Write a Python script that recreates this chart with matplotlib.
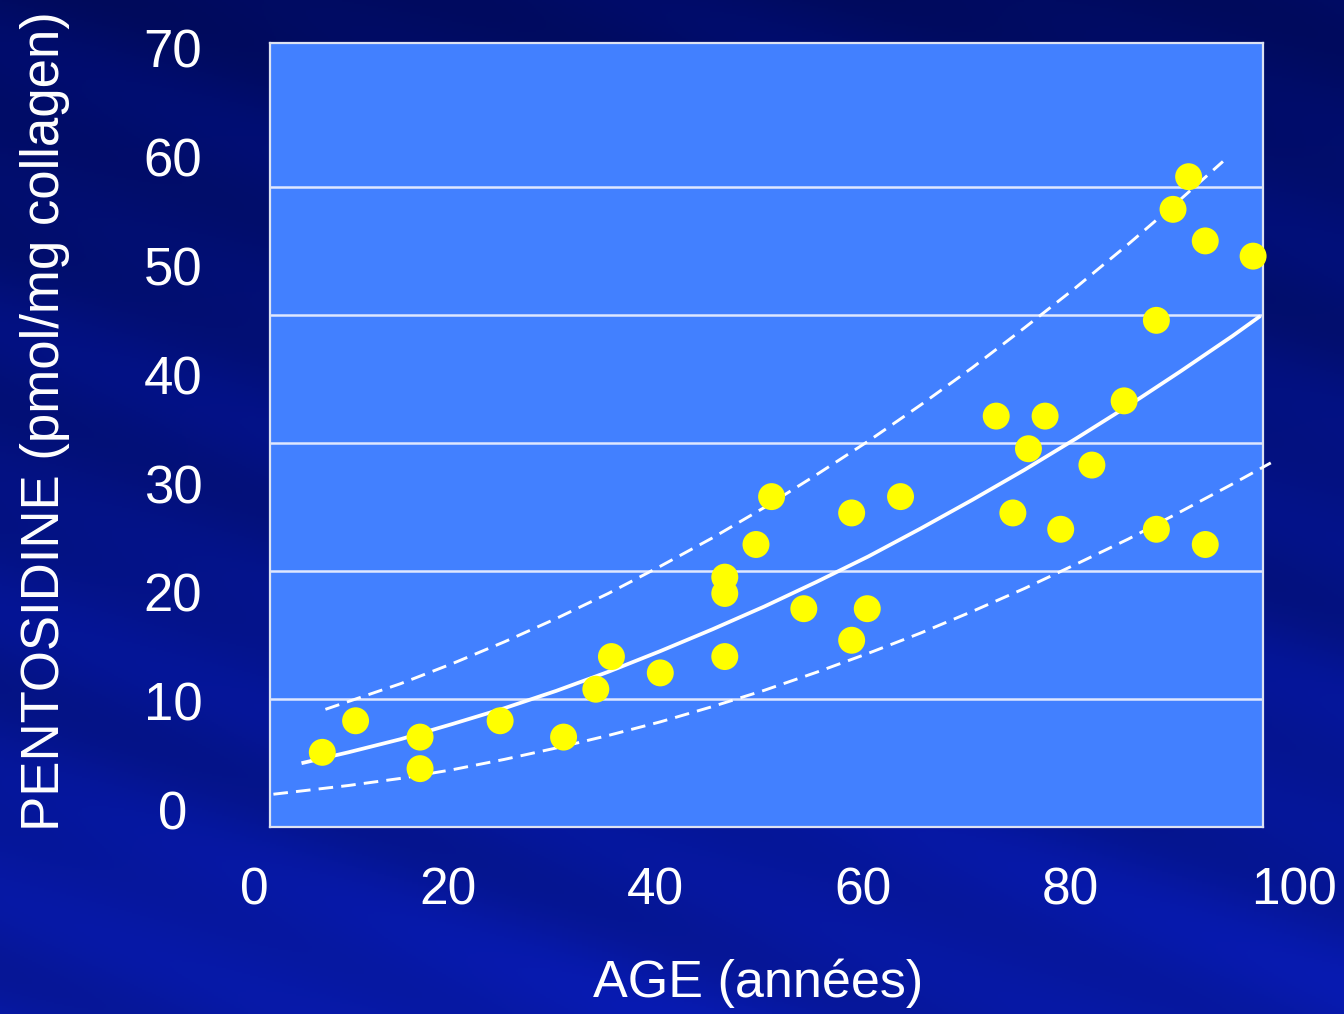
import numpy as np
import matplotlib
matplotlib.use("Agg")
import matplotlib.pyplot as plt
from matplotlib.transforms import ScaledTranslation

# ---------------- data ----------------
age = [7.5, 10.7, 16.9, 16.9, 24.6, 30.7, 33.8, 35.3, 40.0, 46.2, 46.2, 46.2,
       49.2, 50.7, 53.8, 58.4, 58.4, 59.9, 63.1, 72.3, 73.9, 75.4, 77.0, 78.5,
       81.5, 84.6, 87.7, 87.7, 89.3, 90.8, 92.4, 92.4, 97.0]
pentosidine = [5.3, 8.2, 6.7, 3.8, 8.2, 6.7, 11.1, 14.1, 12.6, 21.4, 19.9, 14.1,
               24.4, 28.8, 18.5, 27.3, 15.6, 18.5, 28.8, 36.2, 27.3, 33.2, 36.2, 25.8,
               31.7, 37.6, 45.0, 25.8, 55.2, 58.2, 52.3, 24.4, 50.9]

# regression curve and its two dashed bounds
fit_age = [5.5, 10, 15, 20, 25, 30, 35, 40, 45, 50, 55, 60, 65, 70, 75, 80, 85, 90, 95, 97.7]
fit_val = [4.3, 5.3, 6.5, 7.9, 9.35, 10.95, 12.7, 14.6, 16.6, 18.7, 20.95, 23.3,
           25.85, 28.5, 31.25, 34.15, 37.15, 40.3, 43.55, 45.4]

upper_age = [7.8, 15, 20, 25, 30, 35, 40, 45, 50, 55, 60, 65, 70, 75, 80, 85, 90, 94.1]
upper_val = [9.25, 11.6, 13.45, 15.45, 17.6, 19.9, 22.4, 25.0, 27.8, 30.8, 33.9, 37.2,
             40.65, 44.3, 48.05, 52.0, 56.1, 59.6]

lower_age = [2.8, 10, 15, 20, 25, 30, 35, 40, 45, 50, 55, 60, 65, 70, 75, 80, 85, 90, 95, 98.7]
lower_val = [1.45, 2.25, 2.9, 3.7, 4.65, 5.7, 6.85, 8.1, 9.5, 11.0, 12.65, 14.4, 16.25,
             18.25, 20.35, 22.6, 24.9, 27.4, 29.95, 31.9]

x_ticks = [0, 20, 40, 60, 80, 100]
y_ticks = [0, 10, 20, 30, 40, 50, 60, 70]
x_title = "AGE (années)"
y_title = "PENTOSIDINE (pmol/mg collagen)"

# ---------------- layout ----------------
plt.rcParams['font.family'] = ['Liberation Sans', 'DejaVu Sans']
W, H = 1344, 1014
fig = plt.figure(figsize=(W / 100, H / 100), dpi=100)

# background gradient with faint diagonal rays
bg = fig.add_axes([0, 0, 1, 1], zorder=-10)
bg.axis('off')
yy, xx = np.mgrid[0:H:2, 0:W:2].astype(float)
t = yy / H
top = np.array([0x00, 0x0B, 0x62]) / 255
bot = np.array([0x07, 0x19, 0xA6]) / 255
img = top[None, None, :] * (1 - t[..., None]) + bot[None, None, :] * t[..., None]
ray = (np.sin((yy - 0.38 * xx) / 23.0) + np.sin((yy - 0.30 * xx) / 41.0)) * 0.5
img = img * (1 + 0.08 * ray[..., None])
img = np.clip(img, 0, 1)
bg.imshow(img, extent=[0, 1, 0, 1], aspect='auto', origin='upper')

# label axes (tick coordinate frame)
x0_px, x100_px = 244.3, 1284.3
y0_px, y70_px = 810.0, 48.3
ax_lbl = fig.add_axes([x0_px / W, (H - y0_px) / H, (x100_px - x0_px) / W, (y0_px - y70_px) / H])
ax_lbl.set_xlim(0, 100)
ax_lbl.set_ylim(0, 70)
ax_lbl.patch.set_visible(False)
for s in ax_lbl.spines.values():
    s.set_visible(False)
ax_lbl.set_xticks(x_ticks)
ax_lbl.set_yticks(y_ticks)
ax_lbl.set_xticklabels([str(v) for v in x_ticks])
ax_lbl.set_yticklabels([str(v) for v in y_ticks])
ax_lbl.tick_params(axis='x', length=0, pad=41, labelsize=37, labelcolor='white')
ax_lbl.tick_params(axis='y', length=0, pad=51.3, labelsize=38, labelcolor='white')
plt.setp(ax_lbl.get_yticklabels(), ha='center')
# small horizontal nudges of the x tick labels (slide layout is not perfectly even)
x_nudge_px = [10.5, -4.5, -5.0, -5.0, -5.5, 10.0]
for lbl, dx in zip(ax_lbl.get_xticklabels(), x_nudge_px):
    lbl.set_transform(lbl.get_transform() + ScaledTranslation(dx / 100.0, 0, fig.dpi_scale_trans))

# plot area axes
pl, pr, pt, pb = 269.5, 1262.5, 43.0, 827.0
ax = fig.add_axes([pl / W, (H - pb) / H, (pr - pl) / W, (pb - pt) / H])
ax.set_facecolor('#4280FF')
sx = (x100_px - x0_px) / 100.0
sy = (y0_px - y70_px) / 70.0
ax.set_xlim((pl - x0_px) / sx, (pr - x0_px) / sx)
ax.set_ylim((y0_px - pb) / sy, (y0_px - pt) / sy)
grid_px = [pb - 128 * k for k in range(1, 6)]
ax.set_yticks([(y0_px - g) / sy for g in grid_px])
ax.set_xticks([])
ax.tick_params(length=0, labelleft=False, labelbottom=False)
ax.grid(axis='y', color='#dfe7ff', linewidth=1.8)
ax.set_axisbelow(True)
for s in ax.spines.values():
    s.set_color('#dde3f2')
    s.set_linewidth(1.6)

ax.plot(fit_age, fit_val, color='white', lw=2.7, solid_capstyle='butt',
        solid_joinstyle='round', clip_on=False, zorder=3)
ax.plot(upper_age, upper_val, color='white', lw=2.1, linestyle=(0, (5.0, 2.8)),
        clip_on=False, zorder=3)
ax.plot(lower_age, lower_val, color='white', lw=2.1, linestyle=(0, (5.0, 2.8)),
        clip_on=False, zorder=3)
ax.scatter(age, pentosidine, s=19.4 ** 2, color='#FFFF00', edgecolors='none',
           clip_on=False, zorder=4)

fig.text(45 / W, 1 - 421 / H, y_title, rotation=90, ha='center', va='center',
         fontsize=38, color='white')
fig.text(758 / W, 1 - 997 / H, x_title, ha='center', va='baseline',
         fontsize=37.5, color='white')

fig.savefig('out.png', dpi=100)
